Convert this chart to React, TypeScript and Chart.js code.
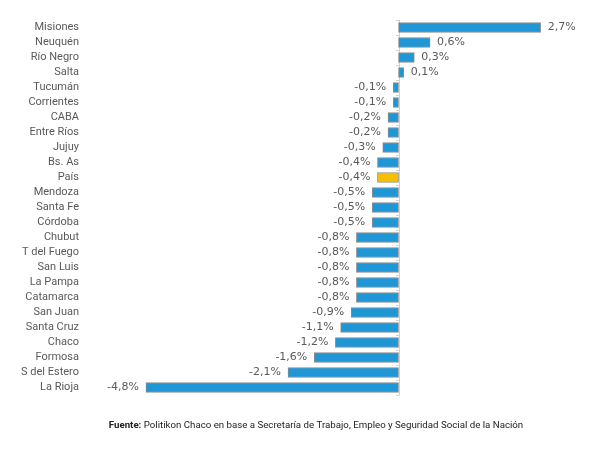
import React, { useEffect, useRef } from "react";
import { Chart, registerables } from "chart.js";

Chart.register(...registerables);

const categories = [
  "Misiones", "Neuquén", "Río Negro", "Salta", "Tucumán", "Corrientes", "CABA",
  "Entre Ríos", "Jujuy", "Bs. As", "País", "Mendoza", "Santa Fe", "Córdoba",
  "Chubut", "T del Fuego", "San Luis", "La Pampa", "Catamarca", "San Juan",
  "Santa Cruz", "Chaco", "Formosa", "S del Estero", "La Rioja",
];
const values = [
  2.7, 0.6, 0.3, 0.1, -0.1, -0.1, -0.2, -0.2, -0.3, -0.4, -0.4, -0.5, -0.5, -0.5,
  -0.8, -0.8, -0.8, -0.8, -0.8, -0.9, -1.1, -1.2, -1.6, -2.1, -4.8,
];
const highlight = "País";
const footerBold = "Fuente:";
const footerText = " Politikon Chaco en base a Secretaría de Trabajo, Empleo y Seguridad Social de la Nación";

const fmt = (v: number) => v.toFixed(1).replace(".", ",") + "%";

export default function App() {
  const ref = useRef<HTMLCanvasElement | null>(null);
  useEffect(() => {
    if (!ref.current) return;
    const extras = {
      id: "extras",
      beforeDatasetsDraw(chart: any) {
        const ctx = chart.ctx;
        const x = chart.scales.x.getPixelForValue(0);
        const { top, bottom } = chart.chartArea;
        ctx.save();
        ctx.strokeStyle = "#d0d0d0";
        ctx.lineWidth = 1;
        ctx.beginPath();
        ctx.moveTo(Math.round(x) + 0.5, top);
        ctx.lineTo(Math.round(x) + 0.5, bottom);
        const step = (bottom - top) / categories.length;
        for (let i = 0; i <= categories.length; i++) {
          const yy = Math.round(top + i * step) + 0.5;
          ctx.moveTo(Math.round(x) - 3, yy);
          ctx.lineTo(Math.round(x) + 0.5, yy);
        }
        ctx.stroke();
        ctx.restore();
      },
      afterDatasetsDraw(chart: any) {
        const ctx = chart.ctx;
        const meta = chart.getDatasetMeta(0);
        ctx.save();
        ctx.font = "11px 'DejaVu Sans'";
        ctx.fillStyle = "#595959";
        ctx.textBaseline = "middle";
        meta.data.forEach((el: any, i: number) => {
          const v = values[i];
          if (v >= 0) {
            ctx.textAlign = "left";
            ctx.fillText(fmt(v), el.x + 7, el.y);
          } else {
            ctx.textAlign = "right";
            ctx.fillText(fmt(v), el.x - 7, el.y);
          }
        });
        // footer
        ctx.textBaseline = "alphabetic";
        ctx.textAlign = "left";
        ctx.fillStyle = "#222";
        ctx.font = "bold 9.7px Roboto";
        const wb = ctx.measureText(footerBold).width;
        ctx.font = "9.7px Roboto";
        const wt = ctx.measureText(footerText).width;
        const start = 316 - (wb + wt) / 2;
        ctx.font = "bold 9.7px Roboto";
        ctx.fillText(footerBold, start, 428);
        ctx.font = "9.7px Roboto";
        ctx.fillText(footerText, start + wb, 428);
        ctx.restore();
      },
    };
    const chart = new Chart(ref.current, {
      type: "bar",
      data: {
        labels: categories,
        datasets: [
          {
            data: values,
            backgroundColor: categories.map((c) => (c === highlight ? "#f6c000" : "#1f96d6")),
            borderColor: "#8c8c8c",
            borderWidth: 1,
            borderSkipped: false,
            barThickness: 10,
          },
        ],
      },
      options: {
        indexAxis: "y",
        animation: false,
        responsive: false,
        maintainAspectRatio: false,
        layout: { padding: { left: 0, right: 12, top: 20, bottom: 73 } },
        plugins: { legend: { display: false }, tooltip: { enabled: false } },
        scales: {
          x: {
            min: -5.9,
            max: 3.6,
            display: false,
            grid: { display: false },
          },
          y: {
            afterFit: (s: any) => {
              s.width = 88;
            },
            grid: { display: false, drawTicks: false },
            border: { display: false },
            ticks: {
              autoSkip: false,
              padding: 9,
              color: "#595959",
              font: { family: "Roboto", size: 11 },
            },
          },
        },
      },
      plugins: [extras],
    });
    return () => chart.destroy();
  }, []);
  return (
    <div style={{ position: "fixed", left: 0, top: 0, width: 600, height: 468, background: "#fff" }}>
      <canvas ref={ref} width={600} height={468} style={{ width: 600, height: 468 }} />
    </div>
  );
}
